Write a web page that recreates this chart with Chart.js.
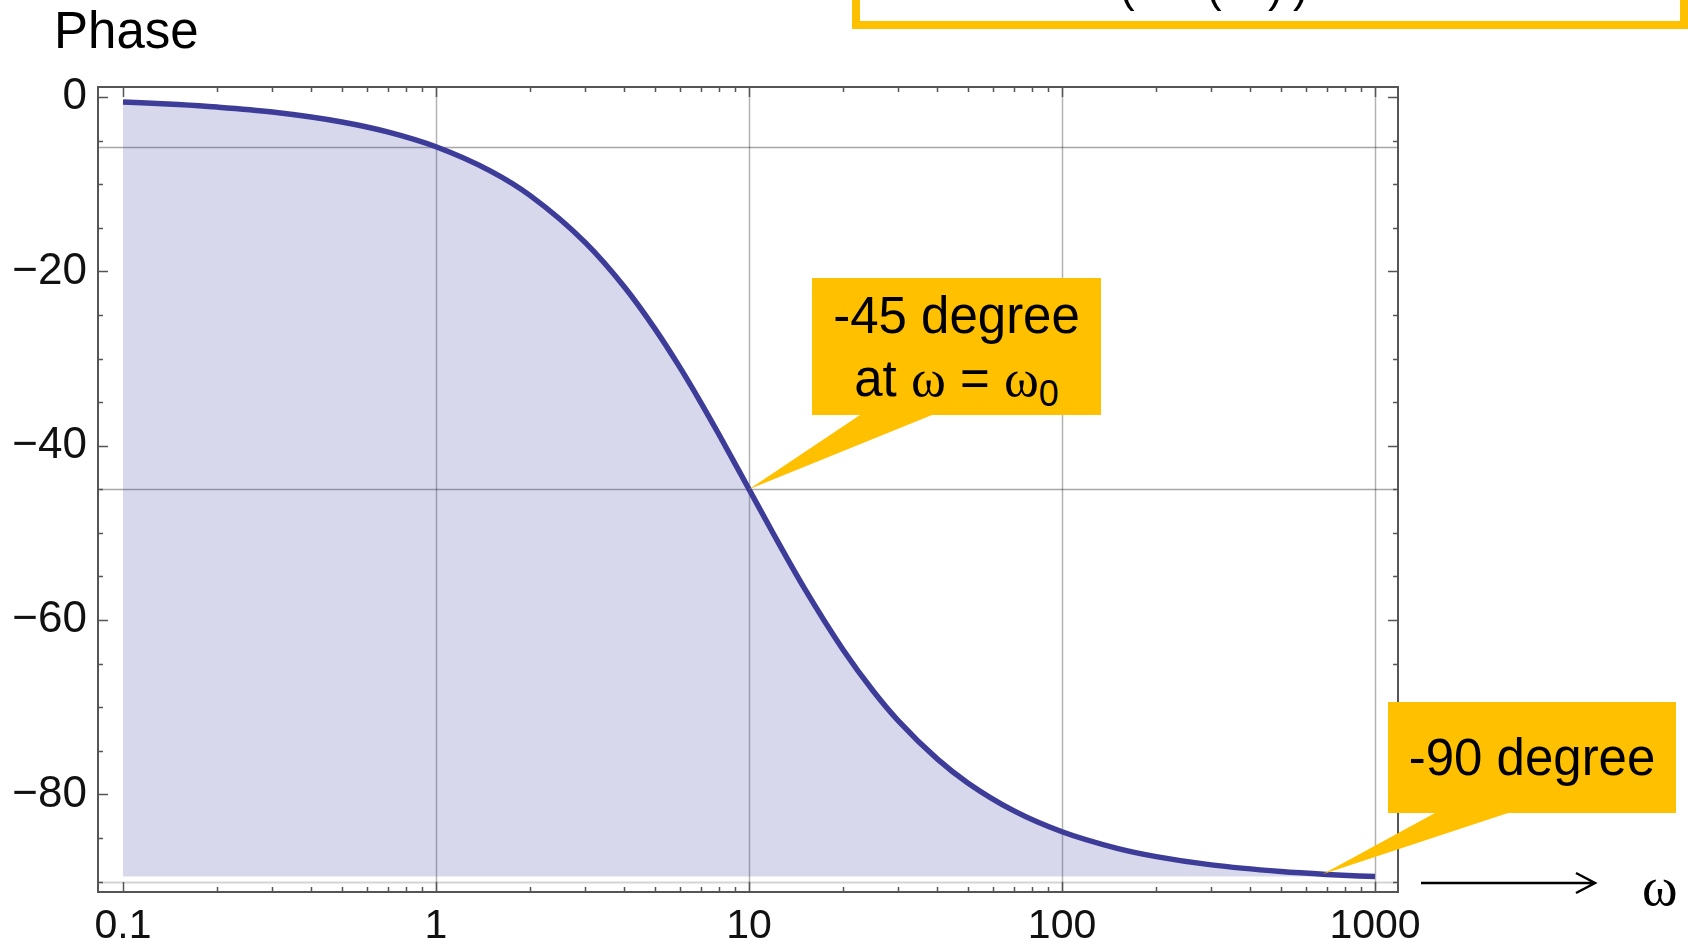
<!DOCTYPE html>
<html>
<head>
<meta charset="utf-8">
<title>Phase</title>
<script src="https://cdn.jsdelivr.net/npm/chart.js@4.4.0/dist/chart.umd.min.js"></script>
<style>
  html, body { margin: 0; padding: 0; background: #fff; width: 1688px; height: 946px; overflow: hidden; }
  #wrap { position: relative; width: 1688px; height: 946px; font-family: "Liberation Sans", Arial, sans-serif; }
  #phaseChart { position: absolute; left: 0; top: 0; }
  .lbl { position: absolute; white-space: nowrap; color: #000; line-height: 1; }
  .sym { font-family: "Liberation Serif", "Times New Roman", serif; }
  .callout { position: absolute; background: #ffc000; }
  .callout .line { position: absolute; left: 0; right: 0; text-align: center; font-size: 51px; line-height: 1; white-space: nowrap; }
  .callout .sym { font-size: 53px; }
  .callout sub { font-size: 36px; vertical-align: -10px; line-height: 1; }
  #formulaBox { position: absolute; left: 852px; top: -60px; width: 836px; height: 89px; box-sizing: border-box; border: 8px solid #ffc000; }
</style>
</head>
<body>
<div id="wrap">
  <canvas id="phaseChart" width="1688" height="946"></canvas>

  <div class="lbl" style="left:54px; top:5px; font-size:51px;">Phase</div>

  <div id="formulaBox"></div>
  <div class="lbl" style="left:1120px; top:-35px; font-size:44px;">(</div>
  <div class="lbl" style="left:1207px; top:-35px; font-size:44px;">(</div>
  <div class="lbl" style="left:1268px; top:-35px; font-size:44px;">)</div>
  <div class="lbl" style="left:1293px; top:-35px; font-size:44px;">)</div>

  <div class="callout" style="left:812px; top:278px; width:289px; height:137px;">
    <div class="line" style="top:12px;">-45 degree</div>
    <div class="line" style="top:74px;">at <span class="sym">ω</span> = <span class="sym">ω</span><sub>0</sub></div>
  </div>

  <div class="callout" style="left:1388px; top:702px; width:288px; height:111px;">
    <div class="line" style="top:30px;">-90 degree</div>
  </div>

  <div class="lbl sym" style="left:1642px; top:860px; font-size:54px;">ω</div>
</div>

<script>
  /* ---------- data ---------- */
  var OMEGA = [0.1, 0.15, 0.2, 0.3, 0.5, 0.7, 1, 1.5, 2, 3, 4, 5, 6, 7, 8, 10,
               12, 15, 20, 25, 30, 40, 50, 70, 100, 150, 200, 300, 500, 700, 1000];
  var PHASE = [-0.57, -0.86, -1.15, -1.72, -2.86, -4.0, -5.71, -8.53, -11.31, -16.7,
               -21.8, -26.57, -30.96, -34.99, -38.66, -45.0, -50.19, -56.31, -63.43,
               -68.2, -71.57, -75.96, -78.69, -81.87, -84.29, -86.19, -87.14, -88.09,
               -88.85, -89.18, -89.43];

  var X_LABELS = [0.1, 1, 10, 100, 1000];
  var X_GRID = [1, 10, 100, 1000];
  var Y_LABELS = [0, -20, -40, -60, -80];
  var Y_GRID = [-5.71, -45, -90];

  /* where the two callouts point */
  var CALLOUT_TIPS = [{ x: 10, y: -45 }, { x: 680, y: -89.15 }];

  var FONT = '"Liberation Sans", Arial, sans-serif';

  /* ---------- frame, ticks, grid, pointers ---------- */
  var framePlugin = {
    id: "frame",
    beforeDatasetsDraw: function (chart) {
      var ctx = chart.ctx, a = chart.chartArea;
      var xs = chart.scales.x, ys = chart.scales.y;
      ctx.save();
      ctx.lineWidth = 1.5;
      ctx.strokeStyle = "rgba(0,0,0,0.3)";
      X_GRID.forEach(function (v) {
        var px = Math.round(xs.getPixelForValue(v)) + 0.5;
        ctx.beginPath(); ctx.moveTo(px, a.top); ctx.lineTo(px, a.bottom); ctx.stroke();
      });
      Y_GRID.forEach(function (v) {
        var py = Math.round(ys.getPixelForValue(v)) + 0.5;
        ctx.strokeStyle = v === -90 ? "rgba(0,0,0,0.17)" : "rgba(0,0,0,0.35)";
        ctx.lineWidth = v === -90 ? 2 : 1.5;
        ctx.beginPath(); ctx.moveTo(a.left, py); ctx.lineTo(a.right, py); ctx.stroke();
      });
      ctx.restore();
    },
    afterDatasetsDraw: function (chart) {
      var ctx = chart.ctx, a = chart.chartArea;
      var xs = chart.scales.x, ys = chart.scales.y;
      ctx.save();

      // frame
      ctx.strokeStyle = "#555";
      ctx.lineWidth = 2;
      ctx.strokeRect(a.left, a.top, a.right - a.left, a.bottom - a.top);

      // y ticks, both sides
      ctx.lineWidth = 1.5;
      for (var v = 0; v >= -90; v -= 5) {
        var py = Math.round(ys.getPixelForValue(v)) + 0.5;
        var len = v % 20 === 0 ? 10 : 5;
        ctx.beginPath();
        ctx.moveTo(a.left, py); ctx.lineTo(a.left + len, py);
        ctx.moveTo(a.right, py); ctx.lineTo(a.right - len, py);
        ctx.stroke();
      }

      // x ticks (log), top and bottom
      for (var d = 0.1; d < 2000; d *= 10) {
        for (var m = 1; m <= 9; m++) {
          var val = d * m;
          if (val > 1000.5) break;
          var px = Math.round(xs.getPixelForValue(val)) + 0.5;
          var tl = m === 1 ? 10 : 5;
          ctx.beginPath();
          ctx.moveTo(px, a.bottom); ctx.lineTo(px, a.bottom - tl);
          ctx.moveTo(px, a.top); ctx.lineTo(px, a.top + tl);
          ctx.stroke();
        }
      }

      // callout pointers
      ctx.fillStyle = "#ffc000";
      var bases = [[860, 932, 415], [1435, 1508, 813]];
      CALLOUT_TIPS.forEach(function (t, i) {
        var b = bases[i];
        ctx.beginPath();
        ctx.moveTo(b[0], b[2]);
        ctx.lineTo(b[1], b[2]);
        ctx.lineTo(xs.getPixelForValue(t.x), ys.getPixelForValue(t.y));
        ctx.closePath();
        ctx.fill();
      });

      // omega arrow
      ctx.strokeStyle = "#000";
      ctx.lineWidth = 2.5;
      ctx.beginPath();
      ctx.moveTo(1421, 883); ctx.lineTo(1594, 883);
      ctx.moveTo(1576, 873); ctx.lineTo(1595, 883); ctx.lineTo(1576, 893);
      ctx.stroke();

      ctx.restore();
    }
  };

  function fmt(v) {
    return v < 0 ? "\u2212" + Math.abs(v) : String(v);
  }

  new Chart(document.getElementById("phaseChart"), {
    type: "line",
    data: {
      labels: OMEGA,
      datasets: [{
        data: OMEGA.map(function (w, i) { return { x: w, y: PHASE[i] }; }),
        borderColor: "rgb(61,61,153)",
        borderWidth: 5.5,
        backgroundColor: "rgba(60,60,160,0.2)",
        fill: { value: -89.43 },
        pointRadius: 0,
        cubicInterpolationMode: "monotone"
      }]
    },
    options: {
      responsive: false,
      animation: false,
      devicePixelRatio: 1,
      layout: { padding: { left: 0, top: 87, right: 290, bottom: 0 } },
      plugins: { legend: { display: false }, tooltip: { enabled: false } },
      scales: {
        x: {
          type: "logarithmic",
          min: 0.0832,
          max: 1184,
          grid: { display: false, drawTicks: false },
          border: { display: false },
          afterBuildTicks: function (s) { s.ticks = X_LABELS.map(function (v) { return { value: v }; }); },
          afterFit: function (s) { s.height = 54; },
          ticks: {
            autoSkip: false, maxRotation: 0, padding: 10, color: "#111",
            font: { family: FONT, size: 41 },
            callback: function (v) { return String(v); }
          }
        },
        y: {
          min: -91.2,
          max: 1.15,
          grid: { display: false, drawTicks: false },
          border: { display: false },
          afterBuildTicks: function (s) { s.ticks = Y_LABELS.map(function (v) { return { value: v }; }); },
          afterFit: function (s) { s.width = 98; },
          ticks: {
            padding: 11, color: "#111",
            font: { family: FONT, size: 44 },
            callback: fmt
          }
        }
      }
    },
    plugins: [framePlugin]
  });
</script>
</body>
</html>
